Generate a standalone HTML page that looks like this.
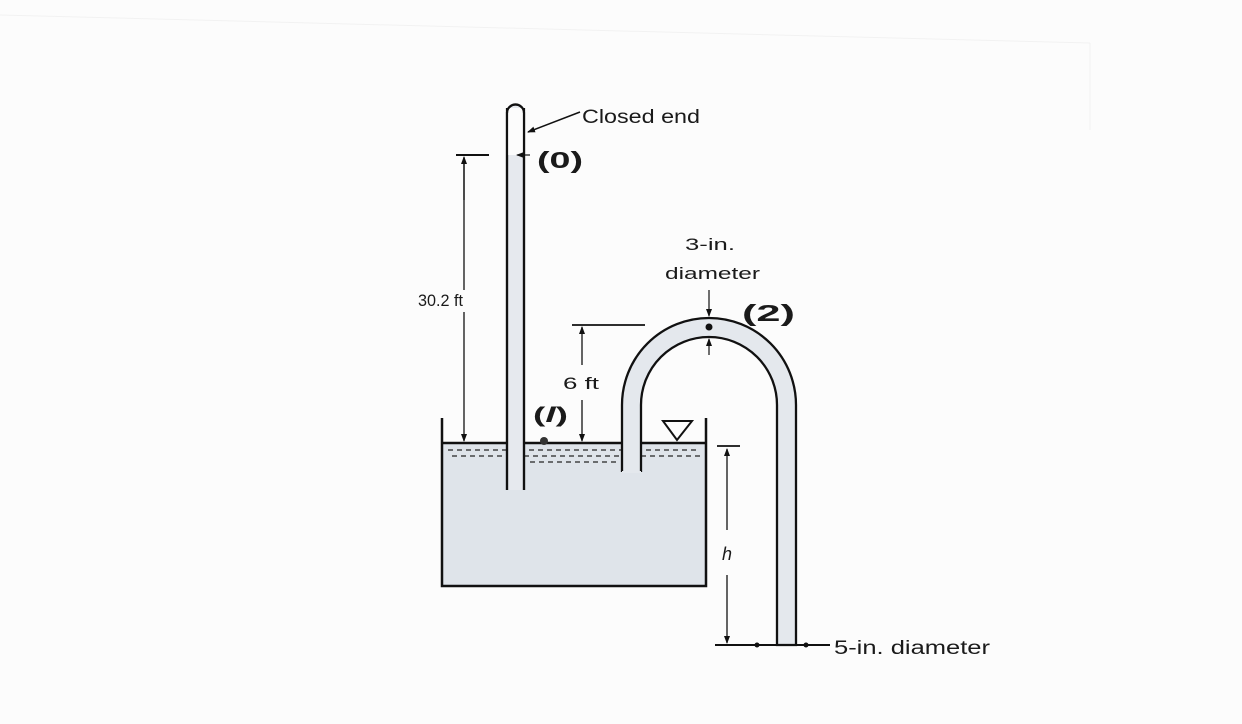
<!DOCTYPE html>
<html><head><meta charset="utf-8"><style>
html,body{margin:0;padding:0;background:#fcfcfc;}
svg{display:block;}
text{font-family:"Liberation Sans",sans-serif;fill:#1a1a1a;}
</style></head><body>
<svg width="1242" height="724" viewBox="0 0 1242 724" xmlns="http://www.w3.org/2000/svg">
<defs>
<marker id="ar" markerWidth="8" markerHeight="8" refX="7" refY="4" orient="auto" markerUnits="userSpaceOnUse">
<path d="M0,1 L8,4 L0,7 Z" fill="#111"/></marker>
</defs>
<line x1="0" y1="15" x2="1090" y2="43" stroke="#f2f2f2" stroke-width="1"/>
<line x1="1090" y1="43" x2="1090" y2="130" stroke="#f2f2f2" stroke-width="1"/>
<rect x="443" y="443" width="263" height="142" fill="#dfe4ea"/>
<g stroke="#444" stroke-width="1.5" stroke-dasharray="5 4">
<line x1="448" y1="450" x2="700" y2="450"/>
<line x1="452" y1="456" x2="700" y2="456"/>
<line x1="530" y1="462" x2="620" y2="462"/>
</g>
<line x1="443" y1="443" x2="706" y2="443" stroke="#111" stroke-width="2.5"/>
<path d="M442,418 L442,586 L706,586 L706,418" fill="none" stroke="#111" stroke-width="2.5"/>
<path d="M507,490 L507,113 A8.5,8.5 0 0 1 524,113 L524,490" fill="#e6e9ee" stroke="#111" stroke-width="2.2"/>
<rect x="508" y="108" width="15" height="47" fill="#fcfcfc"/>
<path d="M507,113 A8.5,8.5 0 0 1 524,113" fill="none" stroke="#111" stroke-width="2.2"/>
<line x1="507" y1="108" x2="507" y2="490" stroke="#111" stroke-width="2.2"/>
<line x1="524" y1="108" x2="524" y2="490" stroke="#111" stroke-width="2.2"/>
<path d="M622,472 L622,405 A87,87 0 0 1 796,405 L796,645 L777,645 L777,405 A68,68 0 0 0 641,405 L641,472" fill="#e4e8ed" stroke="#111" stroke-width="2.3"/>
<line x1="622" y1="472" x2="641" y2="472" stroke="#e4e8ed" stroke-width="2"/>
<circle cx="709" cy="327" r="3.5" fill="#111"/>
<line x1="709" y1="290" x2="709" y2="316" stroke="#111" stroke-width="1.2" marker-end="url(#ar)"/>
<line x1="709" y1="355" x2="709" y2="339" stroke="#111" stroke-width="1.2" marker-end="url(#ar)"/>
<circle cx="544" cy="441" r="4" fill="#333"/>
<path d="M663,421 L692,421 L677,440 Z" fill="none" stroke="#111" stroke-width="2"/>
<line x1="456" y1="155" x2="489" y2="155" stroke="#111" stroke-width="2"/>
<line x1="464" y1="158" x2="464" y2="290" stroke="#111" stroke-width="1.3"/>
<line x1="464" y1="312" x2="464" y2="441" stroke="#111" stroke-width="1.3" marker-end="url(#ar)"/>
<line x1="464" y1="200" x2="464" y2="157" stroke="#111" stroke-width="1.3" marker-end="url(#ar)"/>
<text x="418" y="306" font-size="17" textLength="45" lengthAdjust="spacingAndGlyphs">30.2 ft</text>
<line x1="530" y1="155" x2="517" y2="155" stroke="#111" stroke-width="1.2" marker-end="url(#ar)"/>
<text x="537" y="168" font-size="23" font-weight="bold" textLength="46" lengthAdjust="spacingAndGlyphs">(0)</text>
<line x1="580" y1="112" x2="528" y2="132" stroke="#111" stroke-width="1.5" marker-end="url(#ar)"/>
<text x="582" y="123" font-size="19" textLength="118" lengthAdjust="spacingAndGlyphs">Closed end</text>
<line x1="572" y1="325" x2="645" y2="325" stroke="#111" stroke-width="1.8"/>
<line x1="582" y1="365" x2="582" y2="327" stroke="#111" stroke-width="1.3" marker-end="url(#ar)"/>
<line x1="582" y1="400" x2="582" y2="441" stroke="#111" stroke-width="1.3" marker-end="url(#ar)"/>
<text x="563" y="389" font-size="17" textLength="36" lengthAdjust="spacingAndGlyphs">6 ft</text>
<text x="533" y="422" font-size="21" font-weight="bold" textLength="35" lengthAdjust="spacingAndGlyphs">(<tspan font-style="italic">l</tspan>)</text>
<text x="685" y="250" font-size="17" textLength="50" lengthAdjust="spacingAndGlyphs">3-in.</text>
<text x="665" y="279" font-size="17" textLength="95" lengthAdjust="spacingAndGlyphs">diameter</text>
<text x="742" y="321" font-size="23" font-weight="bold" textLength="53" lengthAdjust="spacingAndGlyphs">(2)</text>
<line x1="717" y1="446" x2="740" y2="446" stroke="#111" stroke-width="1.8"/>
<line x1="727" y1="530" x2="727" y2="449" stroke="#111" stroke-width="1.3" marker-end="url(#ar)"/>
<line x1="727" y1="575" x2="727" y2="643" stroke="#111" stroke-width="1.3" marker-end="url(#ar)"/>
<text x="722" y="560" font-size="18" font-style="italic">h</text>
<line x1="715" y1="645" x2="830" y2="645" stroke="#111" stroke-width="2"/>
<circle cx="757" cy="645" r="2.5" fill="#111"/>
<circle cx="806" cy="645" r="2.5" fill="#111"/>
<text x="834" y="654" font-size="19" textLength="156" lengthAdjust="spacingAndGlyphs">5-in. diameter</text>
</svg>
</body></html>
